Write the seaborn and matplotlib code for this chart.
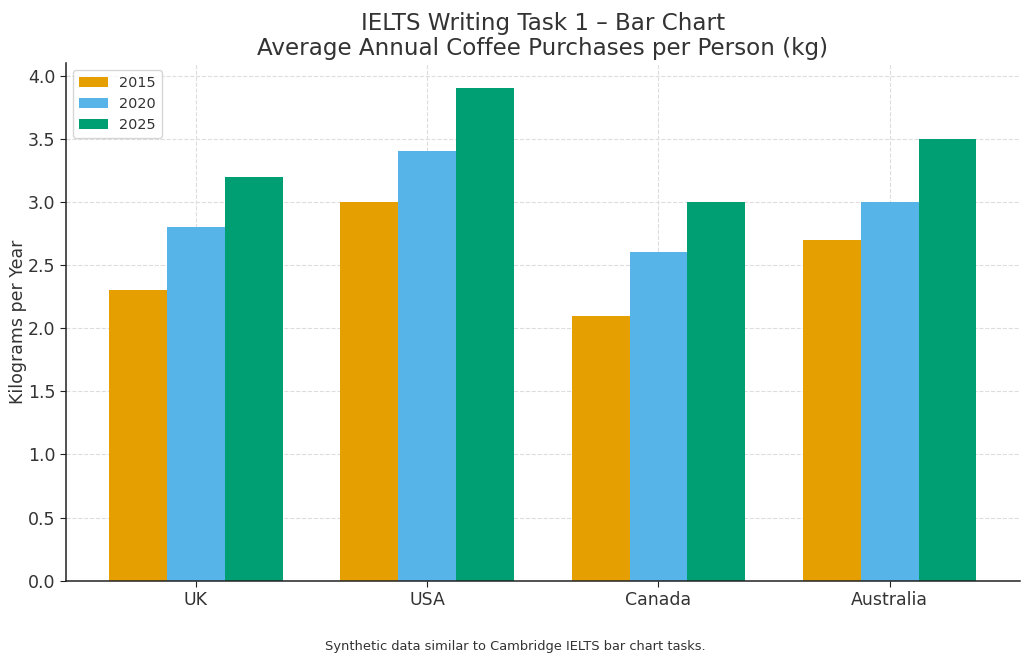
import pandas as pd
import matplotlib
matplotlib.use('Agg')
import matplotlib.pyplot as plt
import seaborn as sns

# Chart data
countries = ['UK', 'USA', 'Canada', 'Australia']
years = ['2015', '2020', '2025']
kg_2015 = [2.3, 3.0, 2.1, 2.7]
kg_2020 = [2.8, 3.4, 2.6, 3.0]
kg_2025 = [3.2, 3.9, 3.0, 3.5]
palette = ['#E69F00', '#56B4E9', '#009E73']

df = pd.DataFrame({
    'country': countries * 3,
    'year': [y for y in years for _ in countries],
    'kg': kg_2015 + kg_2020 + kg_2025,
})

sns.set_style('white')
plt.rcParams['font.family'] = ['DejaVu Sans']
text_col = '#333333'

fig, ax = plt.subplots(figsize=(10.3, 6.63), dpi=100)
sns.barplot(data=df, x='country', y='kg', hue='year', order=countries,
            hue_order=years, palette=palette, width=0.75, saturation=1,
            errorbar=None, linewidth=0, ax=ax)

ax.set_xlim(-0.5625, 3.5625)
ax.set_ylim(0, 4.1)
ax.set_xlabel('')
ax.set_ylabel('Kilograms per Year', fontsize=12.5, color=text_col, labelpad=1)
ax.set_title('IELTS Writing Task 1 – Bar Chart\nAverage Annual Coffee Purchases per Person (kg)',
             fontsize=16.6, color=text_col, pad=6, linespacing=1.1)
ax.tick_params(axis='both', labelsize=12.5, colors=text_col, length=4, left=True, bottom=True)
ax.tick_params(axis='both', color='#222222')
ax.grid(True, linestyle='--', color='#dddddd', linewidth=0.8)
ax.set_axisbelow(True)
for side in ['top', 'right']:
    ax.spines[side].set_visible(False)
for side in ['left', 'bottom']:
    ax.spines[side].set_color('#222222')
    ax.spines[side].set_linewidth(1.1)

leg = ax.legend(loc='upper left', fontsize=10.4, title=None, frameon=True)
for t in leg.get_texts():
    t.set_color(text_col)

fig.text(0.5, 0.02, 'Synthetic data similar to Cambridge IELTS bar chart tasks.',
         ha='center', fontsize=9.4, color=text_col)
fig.subplots_adjust(left=0.064, right=0.99, top=0.905, bottom=0.124)
fig.savefig('out.png', dpi=100)
